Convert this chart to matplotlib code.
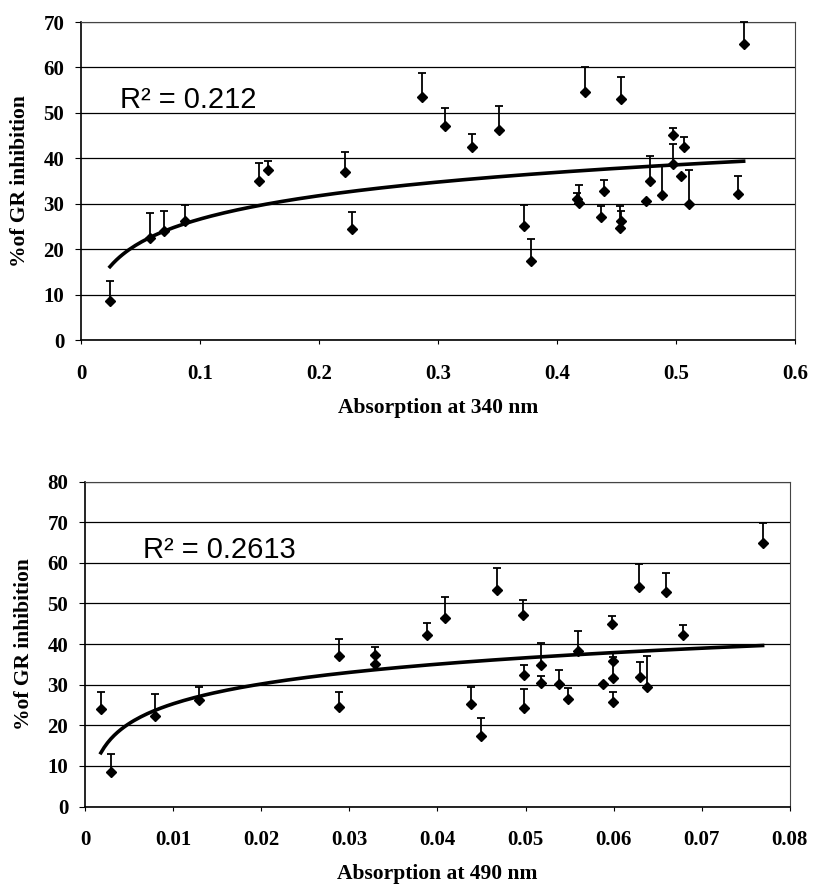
import numpy as np
import matplotlib
matplotlib.use('Agg')
import matplotlib.pyplot as plt

# values
top_x = [0.0244, 0.058, 0.0697, 0.0877, 0.150, 0.157, 0.222, 0.228, 0.287, 0.306,
         0.329, 0.351, 0.372, 0.378, 0.4185, 0.417, 0.4235, 0.4367, 0.440, 0.453,
         0.4543, 0.454, 0.4748, 0.4787, 0.488, 0.4977, 0.498, 0.504, 0.507, 0.511,
         0.5524, 0.557]
top_y = [8.7, 22.5, 24.1, 26.1, 35.0, 37.4, 37.1, 24.4, 53.4, 47.1,
         42.4, 46.3, 25.2, 17.5, 30.2, 31.0, 54.5, 27.0, 32.8, 24.7,
         26.3, 53.1, 30.5, 35.1, 31.9, 38.7, 45.1, 36.2, 42.4, 30.0,
         32.2, 65.1]
top_err = [4.4, 5.4, 4.2, 3.6, 3.9, 2.0, 4.3, 3.7, 5.3, 3.9,
           2.9, 5.2, 4.5, 4.7, 3.9, 1.3, 5.5, 2.5, 2.4, 4.8,
           2.0, 4.8, 0.0, 5.5, 6.6, 4.5, 1.5, 0.0, 2.4, 7.4,
           4.0, 5.0]

bot_x = [0.0018, 0.0030, 0.0079, 0.0129, 0.0288, 0.0288, 0.0329, 0.0329, 0.0388, 0.0408,
         0.0438, 0.0449, 0.0467, 0.0497, 0.0498, 0.0498, 0.0518, 0.0518, 0.0538, 0.0548,
         0.0560, 0.0588, 0.0598, 0.0599, 0.0599, 0.0599, 0.0629, 0.0630, 0.0638, 0.0659,
         0.0679, 0.0769]
bot_y = [24.0, 8.4, 22.4, 26.2, 37.1, 24.6, 37.3, 35.1, 42.3, 46.3,
         25.2, 17.4, 53.3, 47.2, 32.4, 24.3, 34.9, 30.5, 30.1, 26.5,
         38.4, 30.2, 45.0, 35.9, 31.6, 25.8, 54.1, 31.8, 29.4, 52.9,
         42.2, 65.0]
bot_err = [4.2, 4.5, 5.2, 3.3, 4.2, 3.5, 1.9, 2.0, 2.8, 5.2,
           4.2, 4.3, 5.4, 3.7, 2.5, 4.6, 5.4, 1.6, 3.5, 2.6,
           4.8, 0.0, 1.8, 1.0, 6.1, 2.5, 5.6, 3.9, 7.7, 4.5,
           2.5, 4.9]

top_xticks = [0, 0.1, 0.2, 0.3, 0.4, 0.5, 0.6]
top_xticklabels = ['0', '0.1', '0.2', '0.3', '0.4', '0.5', '0.6']
bot_xticks = [0, 0.01, 0.02, 0.03, 0.04, 0.05, 0.06, 0.07, 0.08]
bot_xticklabels = ['0', '0.01', '0.02', '0.03', '0.04', '0.05', '0.06', '0.07', '0.08']

serif = 'Liberation Serif'
sans = 'Liberation Sans'


def panel(ax, x, y, err, xmax, ymax, xticks, xlabels, xlabel, r2, r2_pos):
    x = np.array(x)
    y = np.array(y)
    err = np.array(err)
    ax.set_xlim(0, xmax)
    ax.set_ylim(0, ymax)
    ax.yaxis.grid(True, color='black', lw=0.9)
    ax.set_axisbelow(True)

    eb = ax.errorbar(x, y, yerr=[np.zeros_like(err), err], fmt='none',
                     ecolor='black', elinewidth=1.3, capsize=3.2, capthick=1.3, zorder=3)
    # only the upper half of the bar is shown, drop the lower caps
    for cl in eb[1]:
        cl.set_clip_on(False)
        if np.allclose(cl.get_ydata(), y):
            cl.set_visible(False)
    for bc in eb[2]:
        bc.set_clip_on(False)
    ax.plot(x, y, 'D', color='black', ms=5, zorder=4, clip_on=False)

    # logarithmic trend line
    a, b = np.polyfit(np.log(x), y, 1)
    xs = np.linspace(x.min(), x.max(), 200)
    ax.plot(xs, a * np.log(xs) + b, color='black', lw=2.6, zorder=5)

    ax.text(r2_pos[0], r2_pos[1], r2, fontsize=21, family=sans, ha='left', va='baseline')

    ax.set_xticks(xticks)
    ax.set_xticklabels(xlabels)
    ax.set_yticks(range(0, ymax + 1, 10))
    for lab in ax.get_xticklabels() + ax.get_yticklabels():
        lab.set_family(serif)
        lab.set_fontweight('bold')
        lab.set_fontsize(15)
    ax.tick_params(axis='x', direction='out', length=3, width=0.8, pad=14)
    ax.tick_params(axis='y', direction='out', length=4, width=0.8, pad=8)
    for s in ['left', 'bottom']:
        ax.spines[s].set_linewidth(1.2)
    for s in ['top', 'right']:
        ax.spines[s].set_linewidth(0.8)
        ax.spines[s].set_color('#444444')
    ax.set_xlabel(xlabel, family=serif, fontweight='bold', fontsize=15.5, labelpad=10)
    ax.set_ylabel('%of GR inhibition', family=serif, fontweight='bold', fontsize=15.5, labelpad=10)


fig = plt.figure(figsize=(8.13, 8.89), dpi=100)
ax1 = fig.add_axes([0.0996, 0.6175, 0.878, 0.3577])
ax2 = fig.add_axes([0.1046, 0.0928, 0.867, 0.3654])

panel(ax1, top_x, top_y, top_err, 0.6, 70, top_xticks, top_xticklabels,
      'Absorption at 340 nm', 'R\u00b2 = 0.212', (0.033, 51.1))
panel(ax2, bot_x, bot_y, bot_err, 0.08, 80, bot_xticks, bot_xticklabels,
      'Absorption at 490 nm', 'R\u00b2 = 0.2613', (0.00655, 61.1))

fig.savefig('out.png', dpi=100)
